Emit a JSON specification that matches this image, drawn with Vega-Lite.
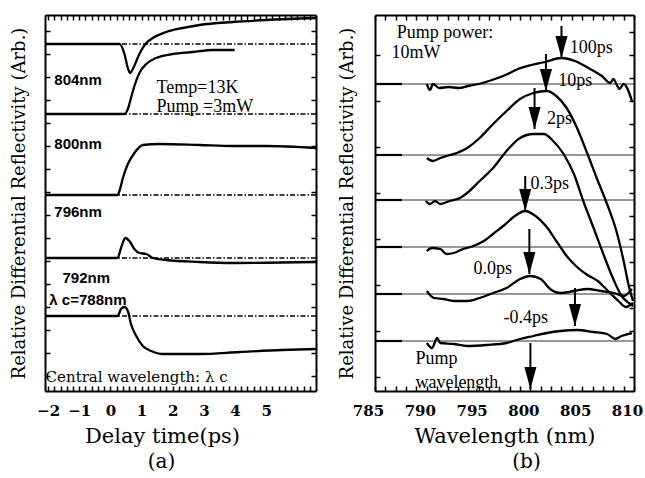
{
  "$schema": "https://vega.github.io/schema/vega-lite/v6.json",
  "background": "white",
  "padding": {"left": 10, "top": 13, "right": 2, "bottom": 0},
  "bounds": "flush",
  "spacing": 59,
  "config": {
    "view": {"stroke": null},
    "axis": {"domainColor": "black", "domainWidth": 2, "tickColor": "black", "tickWidth": 1.5, "grid": false,
      "labelFont": "DejaVu Serif", "labelFontWeight": "bold", "labelFontSize": 15, "labelColor": "black",
      "titleFont": "DejaVu Serif", "titleFontWeight": "normal", "titleColor": "black", "labelOverlap": false, "labelFlush": false}
  },
  "datasets": {
    "a_base": [{"v": 347}, {"v": 277}, {"v": 196}, {"v": 133}, {"v": 75}],
    "a_curves": [
      {"id": 1, "t": -2.1, "v": 347}, {"id": 1, "t": 0.3, "v": 347}, {"id": 1, "t": 0.45, "v": 337}, {"id": 1, "t": 0.56, "v": 323}, {"id": 1, "t": 0.63, "v": 318}, {"id": 1, "t": 0.72, "v": 322}, {"id": 1, "t": 0.93, "v": 337}, {"id": 1, "t": 1.15, "v": 348}, {"id": 1, "t": 1.36, "v": 353}, {"id": 1, "t": 1.79, "v": 359}, {"id": 1, "t": 2.32, "v": 363}, {"id": 1, "t": 2.86, "v": 366}, {"id": 1, "t": 3.93, "v": 369}, {"id": 1, "t": 5.0, "v": 371}, {"id": 1, "t": 6.6, "v": 373},
      {"id": 2, "t": -2.1, "v": 277}, {"id": 2, "t": 0.45, "v": 277}, {"id": 2, "t": 0.56, "v": 282}, {"id": 2, "t": 0.66, "v": 293}, {"id": 2, "t": 0.77, "v": 305}, {"id": 2, "t": 0.93, "v": 318}, {"id": 2, "t": 1.15, "v": 327}, {"id": 2, "t": 1.47, "v": 333}, {"id": 2, "t": 2.0, "v": 337}, {"id": 2, "t": 2.65, "v": 339}, {"id": 2, "t": 3.29, "v": 341}, {"id": 2, "t": 3.99, "v": 341},
      {"id": 3, "t": -2.1, "v": 196}, {"id": 3, "t": 0.23, "v": 196}, {"id": 3, "t": 0.29, "v": 200}, {"id": 3, "t": 0.4, "v": 213}, {"id": 3, "t": 0.56, "v": 227}, {"id": 3, "t": 0.77, "v": 238}, {"id": 3, "t": 1.04, "v": 246}, {"id": 3, "t": 1.58, "v": 247}, {"id": 3, "t": 2.86, "v": 246}, {"id": 3, "t": 3.92, "v": 245}, {"id": 3, "t": 5.0, "v": 245}, {"id": 3, "t": 6.6, "v": 243},
      {"id": 4, "t": -2.1, "v": 133}, {"id": 4, "t": 0.23, "v": 133}, {"id": 4, "t": 0.34, "v": 143}, {"id": 4, "t": 0.48, "v": 153}, {"id": 4, "t": 0.61, "v": 150}, {"id": 4, "t": 0.77, "v": 142}, {"id": 4, "t": 0.93, "v": 138}, {"id": 4, "t": 1.15, "v": 137}, {"id": 4, "t": 1.36, "v": 133}, {"id": 4, "t": 1.79, "v": 131}, {"id": 4, "t": 2.86, "v": 129}, {"id": 4, "t": 3.93, "v": 128}, {"id": 4, "t": 6.6, "v": 129},
      {"id": 5, "t": -2.1, "v": 75}, {"id": 5, "t": 0.23, "v": 75}, {"id": 5, "t": 0.34, "v": 82}, {"id": 5, "t": 0.45, "v": 84}, {"id": 5, "t": 0.56, "v": 80}, {"id": 5, "t": 0.66, "v": 67}, {"id": 5, "t": 0.83, "v": 55}, {"id": 5, "t": 1.04, "v": 45}, {"id": 5, "t": 1.31, "v": 40}, {"id": 5, "t": 1.68, "v": 37}, {"id": 5, "t": 2.86, "v": 37}, {"id": 5, "t": 4.15, "v": 39}, {"id": 5, "t": 5.5, "v": 41}, {"id": 5, "t": 6.6, "v": 42}
    ],
    "a_nm": [
      {"t": -1.8, "v": 311, "label": "804nm"}, {"t": -1.8, "v": 247, "label": "800nm"}, {"t": -1.8, "v": 179, "label": "796nm"}, {"t": -1.54, "v": 113, "label": "792nm"}, {"t": -1.96, "v": 91, "label": "λ c=788nm"}
    ],
    "a_serif": [
      {"t": 1.48, "v": 303, "label": "Temp=13K"}, {"t": 1.48, "v": 284, "label": "Pump =3mW"}
    ],
    "a_central": [{"t": -2.08, "v": 14, "label": "Central wavelength: λ c"}],
    "b_base": [{"v": 307}, {"v": 236}, {"v": 191}, {"v": 144}, {"v": 97}, {"v": 50}],
    "b_curves": [
      {"id": "A", "w": 790.0, "v": 307}, {"id": "A", "w": 790.3, "v": 301}, {"id": "A", "w": 790.6, "v": 307}, {"id": "A", "w": 791.2, "v": 303}, {"id": "A", "w": 792.1, "v": 304}, {"id": "A", "w": 793.1, "v": 303}, {"id": "A", "w": 794.0, "v": 305}, {"id": "A", "w": 795.0, "v": 307}, {"id": "A", "w": 796.3, "v": 311}, {"id": "A", "w": 797.6, "v": 316}, {"id": "A", "w": 798.8, "v": 322}, {"id": "A", "w": 800.1, "v": 326}, {"id": "A", "w": 801.4, "v": 329}, {"id": "A", "w": 803.0, "v": 333}, {"id": "A", "w": 804.3, "v": 330}, {"id": "A", "w": 805.6, "v": 323}, {"id": "A", "w": 806.9, "v": 315}, {"id": "A", "w": 807.7, "v": 308}, {"id": "A", "w": 808.0, "v": 312}, {"id": "A", "w": 808.3, "v": 307}, {"id": "A", "w": 808.6, "v": 302}, {"id": "A", "w": 809.0, "v": 307}, {"id": "A", "w": 809.8, "v": 290},
      {"id": "B", "w": 790.0, "v": 233}, {"id": "B", "w": 790.6, "v": 230}, {"id": "B", "w": 791.3, "v": 233}, {"id": "B", "w": 791.9, "v": 235}, {"id": "B", "w": 792.9, "v": 238}, {"id": "B", "w": 793.9, "v": 243}, {"id": "B", "w": 795.1, "v": 253}, {"id": "B", "w": 796.4, "v": 267}, {"id": "B", "w": 797.7, "v": 280}, {"id": "B", "w": 799.0, "v": 292}, {"id": "B", "w": 800.3, "v": 298}, {"id": "B", "w": 801.6, "v": 300}, {"id": "B", "w": 802.5, "v": 295}, {"id": "B", "w": 803.5, "v": 283}, {"id": "B", "w": 804.5, "v": 263}, {"id": "B", "w": 805.4, "v": 240}, {"id": "B", "w": 806.4, "v": 213}, {"id": "B", "w": 807.4, "v": 187}, {"id": "B", "w": 808.3, "v": 160}, {"id": "B", "w": 809.0, "v": 130}, {"id": "B", "w": 809.5, "v": 105}, {"id": "B", "w": 809.9, "v": 90},
      {"id": "C", "w": 789.9, "v": 190}, {"id": "C", "w": 790.3, "v": 187}, {"id": "C", "w": 790.8, "v": 190}, {"id": "C", "w": 791.3, "v": 187}, {"id": "C", "w": 792.2, "v": 190}, {"id": "C", "w": 793.2, "v": 193}, {"id": "C", "w": 793.9, "v": 198}, {"id": "C", "w": 795.1, "v": 210}, {"id": "C", "w": 796.4, "v": 223}, {"id": "C", "w": 797.7, "v": 240}, {"id": "C", "w": 799.0, "v": 253}, {"id": "C", "w": 800.3, "v": 257}, {"id": "C", "w": 801.3, "v": 257}, {"id": "C", "w": 802.2, "v": 250}, {"id": "C", "w": 803.2, "v": 237}, {"id": "C", "w": 804.2, "v": 217}, {"id": "C", "w": 805.1, "v": 190}, {"id": "C", "w": 806.1, "v": 163}, {"id": "C", "w": 807.0, "v": 138}, {"id": "C", "w": 808.0, "v": 112}, {"id": "C", "w": 808.8, "v": 95}, {"id": "C", "w": 809.5, "v": 88}, {"id": "C", "w": 809.9, "v": 85},
      {"id": "D", "w": 790.0, "v": 140}, {"id": "D", "w": 790.5, "v": 143}, {"id": "D", "w": 791.3, "v": 142}, {"id": "D", "w": 791.9, "v": 137}, {"id": "D", "w": 792.6, "v": 138}, {"id": "D", "w": 793.5, "v": 142}, {"id": "D", "w": 794.5, "v": 145}, {"id": "D", "w": 795.5, "v": 150}, {"id": "D", "w": 796.5, "v": 158}, {"id": "D", "w": 797.5, "v": 166}, {"id": "D", "w": 798.5, "v": 175}, {"id": "D", "w": 799.5, "v": 180}, {"id": "D", "w": 800.5, "v": 175}, {"id": "D", "w": 801.5, "v": 165}, {"id": "D", "w": 802.5, "v": 150}, {"id": "D", "w": 803.5, "v": 135}, {"id": "D", "w": 804.5, "v": 124}, {"id": "D", "w": 805.5, "v": 116}, {"id": "D", "w": 806.5, "v": 110}, {"id": "D", "w": 807.5, "v": 100}, {"id": "D", "w": 808.5, "v": 90}, {"id": "D", "w": 809.2, "v": 84}, {"id": "D", "w": 809.9, "v": 88},
      {"id": "E", "w": 790.0, "v": 100}, {"id": "E", "w": 790.7, "v": 93}, {"id": "E", "w": 791.6, "v": 92}, {"id": "E", "w": 792.6, "v": 90}, {"id": "E", "w": 793.9, "v": 90}, {"id": "E", "w": 795.1, "v": 93}, {"id": "E", "w": 796.4, "v": 98}, {"id": "E", "w": 797.7, "v": 103}, {"id": "E", "w": 799.0, "v": 112}, {"id": "E", "w": 800.0, "v": 115}, {"id": "E", "w": 801.0, "v": 112}, {"id": "E", "w": 801.9, "v": 102}, {"id": "E", "w": 802.9, "v": 98}, {"id": "E", "w": 804.2, "v": 100}, {"id": "E", "w": 805.5, "v": 102}, {"id": "E", "w": 806.8, "v": 100}, {"id": "E", "w": 808.1, "v": 98}, {"id": "E", "w": 809.0, "v": 95}, {"id": "E", "w": 809.8, "v": 102},
      {"id": "F", "w": 790.0, "v": 48}, {"id": "F", "w": 790.5, "v": 43}, {"id": "F", "w": 791.0, "v": 53}, {"id": "F", "w": 791.3, "v": 48}, {"id": "F", "w": 792.6, "v": 47}, {"id": "F", "w": 793.9, "v": 45}, {"id": "F", "w": 795.8, "v": 46}, {"id": "F", "w": 797.7, "v": 48}, {"id": "F", "w": 799.0, "v": 52}, {"id": "F", "w": 800.3, "v": 55}, {"id": "F", "w": 801.6, "v": 58}, {"id": "F", "w": 802.9, "v": 60}, {"id": "F", "w": 804.5, "v": 61}, {"id": "F", "w": 806.1, "v": 59}, {"id": "F", "w": 807.4, "v": 57}, {"id": "F", "w": 808.2, "v": 52}, {"id": "F", "w": 808.8, "v": 55}, {"id": "F", "w": 809.8, "v": 58}
    ],
    "b_arrows": [
      {"w": 803.0, "top": 365, "tip": 333}, {"w": 801.5, "top": 337, "tip": 300}, {"w": 800.4, "top": 303, "tip": 262}, {"w": 799.5, "top": 215, "tip": 180}, {"w": 799.9, "top": 162, "tip": 117}, {"w": 804.3, "top": 103, "tip": 65}, {"w": 800.0, "top": 48, "tip": 2}
    ],
    "b_text": [
      {"w": 787.1, "v": 358, "label": "Pump power:"}, {"w": 786.6, "v": 338, "label": "10mW"},
      {"w": 803.8, "v": 343, "label": "100ps"}, {"w": 802.7, "v": 310, "label": "10ps"}, {"w": 801.6, "v": 272, "label": "2ps"},
      {"w": 800.0, "v": 207, "label": "0.3ps"}, {"w": 794.5, "v": 122, "label": "0.0ps"}, {"w": 797.4, "v": 73, "label": "-0.4ps"},
      {"w": 788.9, "v": 32, "label": "Pump"}, {"w": 788.9, "v": 8, "label": "wavelength"}
    ]
  },
  "hconcat": [
    {
      "width": 271,
      "height": 376,
      "title": {"text": "(a)", "orient": "bottom", "font": "DejaVu Serif", "fontSize": 20, "fontWeight": "normal", "color": "black", "anchor": "middle", "frame": "group", "dx": -19, "offset": 6},
      "layer": [
        {
          "data": {"name": "a_base"},
          "mark": {"type": "rule", "color": "black", "strokeWidth": 1.3, "strokeDash": [5, 2, 1.5, 2]},
          "encoding": {
            "y": {"field": "v", "type": "quantitative", "scale": {"domain": [0, 376], "nice": false, "zero": false},
              "axis": {"orient": "left", "title": "Relative Differential Reflectivity (Arb.)", "titleFontSize": 18, "titlePadding": 16, "labels": false, "tickSize": -5,
                "values": [15, 38, 61, 84, 107, 130, 153, 176, 199, 222, 245, 268, 291, 314, 337, 360]}}
          }
        },
        {
          "data": {"name": "a_curves"},
          "mark": {"type": "line", "color": "black", "strokeWidth": 2.3, "interpolate": "monotone"},
          "encoding": {
            "x": {"field": "t", "type": "quantitative", "scale": {"domain": [-2.1, 6.6], "nice": false, "zero": false},
              "axis": {"orient": "bottom", "title": "Delay time(ps)", "titleFontSize": 21, "titlePadding": 7, "titleX": 117, "tickSize": -5, "labelPadding": 17,
                "values": [-2, -1.8, -1.6, -1.4, -1.2, -1, -0.8, -0.6, -0.4, -0.2, 0, 0.2, 0.4, 0.6, 0.8, 1, 1.2, 1.4, 1.6, 1.8, 2, 2.2, 2.4, 2.6, 2.8, 3, 3.2, 3.4, 3.6, 3.8, 4, 4.2, 4.4, 4.6, 4.8, 5, 5.2, 5.4, 5.6, 5.8, 6, 6.2, 6.4],
                "labelExpr": "abs(datum.value - round(datum.value)) < 0.001 && datum.value <= 5 ? format(datum.value, 'd') : ''"}},
            "y": {"field": "v", "type": "quantitative", "axis": null},
            "detail": {"field": "id"}
          }
        },
        {
          "data": {"name": "a_curves"},
          "mark": {"type": "point", "opacity": 0},
          "encoding": {
            "x": {"field": "t", "type": "quantitative",
              "axis": {"orient": "top", "title": null, "labels": false, "tickSize": -5,
                "values": [-2, -1.8, -1.6, -1.4, -1.2, -1, -0.8, -0.6, -0.4, -0.2, 0, 0.2, 0.4, 0.6, 0.8, 1, 1.2, 1.4, 1.6, 1.8, 2, 2.2, 2.4, 2.6, 2.8, 3, 3.2, 3.4, 3.6, 3.8, 4, 4.2, 4.4, 4.6, 4.8, 5, 5.2, 5.4, 5.6, 5.8, 6, 6.2, 6.4]}},
            "y": {"field": "v", "type": "quantitative",
              "axis": {"orient": "right", "title": null, "labels": false, "tickSize": -5,
                "values": [15, 38, 61, 84, 107, 130, 153, 176, 199, 222, 245, 268, 291, 314, 337, 360]}}
          }
        },
        {
          "data": {"name": "a_nm"},
          "mark": {"type": "text", "align": "left", "baseline": "middle", "font": "Liberation Sans", "fontSize": 15, "fontWeight": "bold", "color": "black"},
          "encoding": {
            "x": {"field": "t", "type": "quantitative", "axis": null},
            "y": {"field": "v", "type": "quantitative", "axis": null},
            "text": {"field": "label"}
          }
        },
        {
          "data": {"name": "a_serif"},
          "mark": {"type": "text", "align": "left", "baseline": "middle", "font": "Liberation Serif", "fontSize": 18, "color": "black"},
          "encoding": {
            "x": {"field": "t", "type": "quantitative", "axis": null},
            "y": {"field": "v", "type": "quantitative", "axis": null},
            "text": {"field": "label"}
          }
        },
        {
          "data": {"name": "a_central"},
          "mark": {"type": "text", "align": "left", "baseline": "middle", "font": "DejaVu Serif", "fontSize": 15, "color": "black"},
          "encoding": {
            "x": {"field": "t", "type": "quantitative", "axis": null},
            "y": {"field": "v", "type": "quantitative", "axis": null},
            "text": {"field": "label"}
          }
        }
      ]
    },
    {
      "width": 259,
      "height": 376,
      "title": {"text": "(b)", "orient": "bottom", "font": "DejaVu Serif", "fontSize": 20, "fontWeight": "normal", "color": "black", "anchor": "middle", "frame": "group", "dx": 22, "offset": 6},
      "layer": [
        {
          "data": {"name": "b_base"},
          "mark": {"type": "rule", "color": "#333", "strokeWidth": 1},
          "encoding": {
            "y": {"field": "v", "type": "quantitative", "scale": {"domain": [0, 376], "nice": false, "zero": false},
              "axis": {"orient": "left", "title": "Relative Differential Reflectivity (Arb.)", "titleFontSize": 18, "titlePadding": 18, "labels": false, "tickSize": -5,
                "values": [14, 60, 106, 152, 198, 244, 290, 336]}}
          }
        },
        {
          "data": {"name": "b_base"},
          "mark": {"type": "rule", "color": "black", "strokeWidth": 2.2},
          "encoding": {
            "x": {"datum": 785, "type": "quantitative", "scale": {"domain": [785, 810], "nice": false, "zero": false}, "axis": null},
            "x2": {"datum": 787.6},
            "y": {"field": "v", "type": "quantitative", "axis": null}
          }
        },
        {
          "data": {"name": "b_curves"},
          "mark": {"type": "line", "color": "black", "strokeWidth": 2.3, "interpolate": "monotone"},
          "encoding": {
            "x": {"field": "w", "type": "quantitative", "scale": {"domain": [785, 810], "nice": false, "zero": false},
              "axis": {"orient": "bottom", "title": "Wavelength (nm)", "titleFontSize": 21, "titlePadding": 7, "tickSize": -5, "labelPadding": 17, "labelOffset": -7,
                "values": [785, 786, 787, 788, 789, 790, 791, 792, 793, 794, 795, 796, 797, 798, 799, 800, 801, 802, 803, 804, 805, 806, 807, 808, 809, 810],
                "labelExpr": "datum.value % 5 == 0 ? format(datum.value, 'd') : ''"}},
            "y": {"field": "v", "type": "quantitative", "axis": null},
            "detail": {"field": "id"}
          }
        },
        {
          "data": {"name": "b_curves"},
          "mark": {"type": "point", "opacity": 0},
          "encoding": {
            "x": {"field": "w", "type": "quantitative",
              "axis": {"orient": "top", "title": null, "labels": false, "tickSize": -5,
                "values": [785, 786, 787, 788, 789, 790, 791, 792, 793, 794, 795, 796, 797, 798, 799, 800, 801, 802, 803, 804, 805, 806, 807, 808, 809, 810]}},
            "y": {"field": "v", "type": "quantitative",
              "axis": {"orient": "right", "title": null, "labels": false, "tickSize": -5,
                "values": [14, 37, 60, 83, 106, 129, 152, 175, 198, 221, 244, 267, 290, 313, 336, 359]}}
          }
        },
        {
          "data": {"name": "b_arrows"},
          "mark": {"type": "rule", "color": "black", "strokeWidth": 2},
          "encoding": {
            "x": {"field": "w", "type": "quantitative", "axis": null},
            "y": {"field": "top", "type": "quantitative", "axis": null},
            "y2": {"field": "tip"}
          }
        },
        {
          "data": {"name": "b_arrows"},
          "mark": {"type": "point", "filled": true, "color": "black", "opacity": 1, "size": 484, "shape": "M-0.55,-2L0.55,-2L0,0Z"},
          "encoding": {
            "x": {"field": "w", "type": "quantitative", "axis": null},
            "y": {"field": "tip", "type": "quantitative", "axis": null}
          }
        },
        {
          "data": {"name": "b_text"},
          "mark": {"type": "text", "align": "left", "baseline": "middle", "font": "Liberation Serif", "fontSize": 18, "color": "black"},
          "encoding": {
            "x": {"field": "w", "type": "quantitative", "axis": null},
            "y": {"field": "v", "type": "quantitative", "axis": null},
            "text": {"field": "label"}
          }
        }
      ]
    }
  ]
}
